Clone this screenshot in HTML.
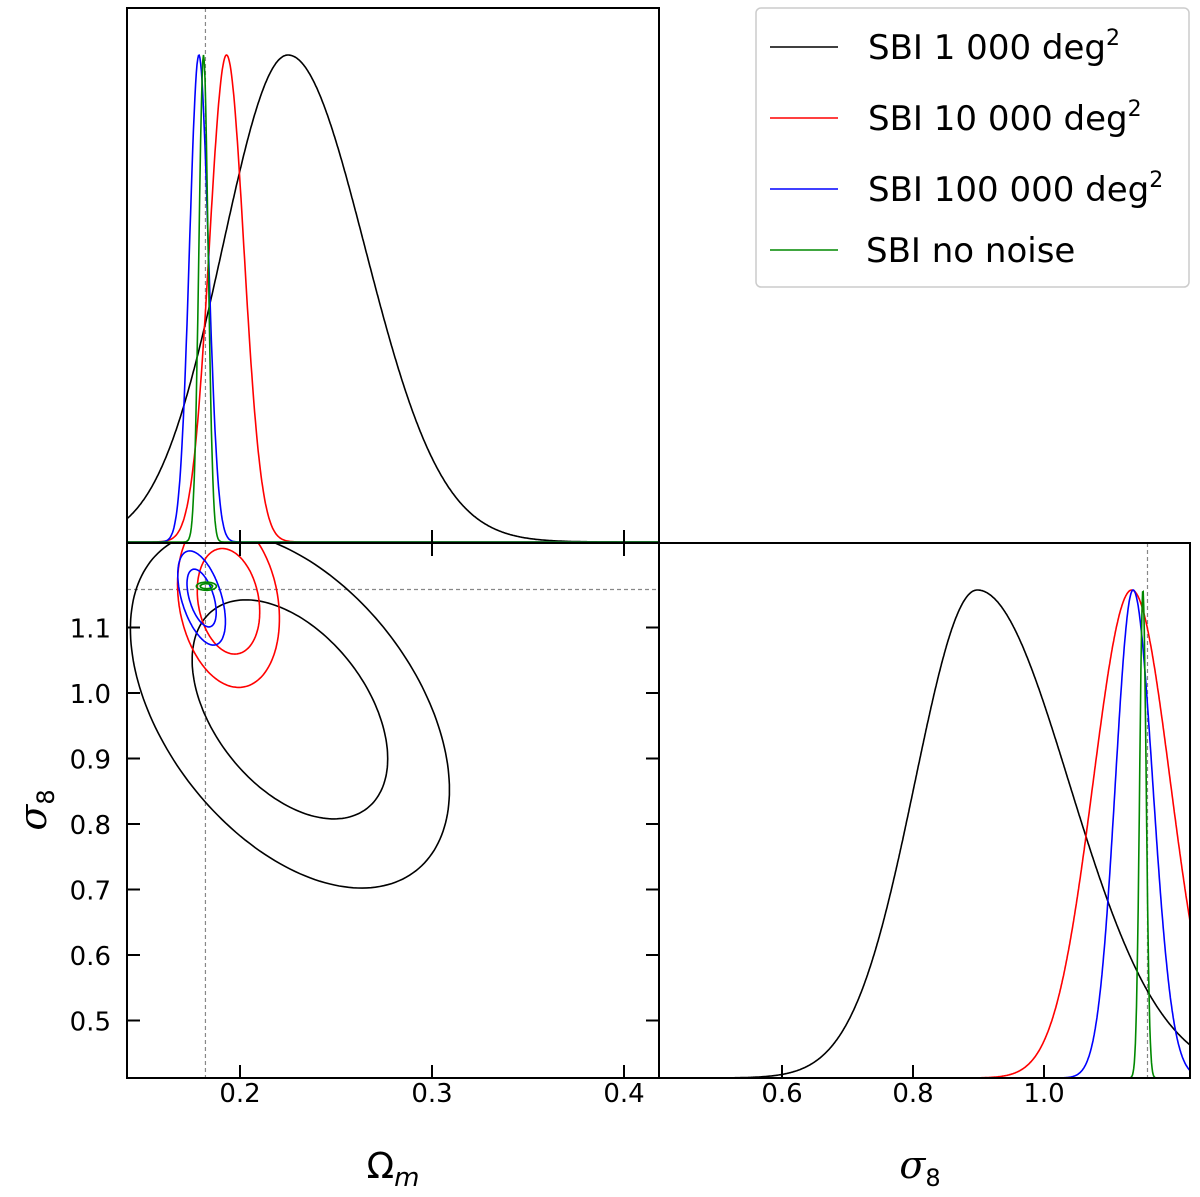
<!DOCTYPE html>
<html><head><meta charset="utf-8"><style>
html,body{margin:0;padding:0;background:#fff;}
svg{display:block;font-family:"DejaVu Sans","Liberation Sans",sans-serif;}
</style></head><body>
<svg id="chart" width="1200" height="1197" viewBox="0 0 1200 1197">
<defs>
<clipPath id="clipTL"><rect x="127" y="8" width="532" height="535"/></clipPath>
<clipPath id="clipBL"><rect x="127" y="543" width="532" height="535"/></clipPath>
<clipPath id="clipBR"><rect x="659" y="543" width="531" height="535"/></clipPath>
</defs>
<g id="gTL" clip-path="url(#clipTL)"></g>
<g id="gBL" clip-path="url(#clipBL)"></g>
<g id="gBR" clip-path="url(#clipBR)"></g>
<g id="axes"></g>
<rect x="127" y="8" width="532" height="535" fill="none" stroke="#000" stroke-width="2"/>
<rect x="127" y="543" width="532" height="535" fill="none" stroke="#000" stroke-width="2"/>
<rect x="659" y="543" width="531" height="535" fill="none" stroke="#000" stroke-width="2"/>
<text x="393" y="1178" font-size="36" font-family="DejaVu Sans,Liberation Sans,sans-serif" text-anchor="middle">Ω<tspan font-size="26" font-style="italic" dy="8">m</tspan></text>
<text x="920" y="1178" font-size="38" font-style="italic" font-family="DejaVu Serif,Liberation Serif,serif" text-anchor="middle">σ<tspan font-size="24" font-style="normal" font-family="DejaVu Sans,sans-serif" dy="8">8</tspan></text>
<text transform="translate(46,810) rotate(-90)" font-size="38" font-style="italic" font-family="DejaVu Serif,Liberation Serif,serif" text-anchor="middle">σ<tspan font-size="24" font-style="normal" font-family="DejaVu Sans,sans-serif" dy="8">8</tspan></text>
<g>
<rect x="756" y="8" width="433" height="279" rx="5" fill="#fff" stroke="#ccc" stroke-width="1.5"/>
<g><line x1="770" y1="47" x2="838" y2="47" stroke="#000" stroke-width="1.6"/><text x="868" y="59" font-size="34">SBI 1 000 deg<tspan font-size="22" dy="-14">2</tspan></text></g>
<g><line x1="770" y1="118" x2="838" y2="118" stroke="#f00" stroke-width="1.6"/><text x="868" y="130" font-size="34">SBI 10 000 deg<tspan font-size="22" dy="-14">2</tspan></text></g>
<g><line x1="770" y1="189" x2="838" y2="189" stroke="#00f" stroke-width="1.6"/><text x="868" y="201" font-size="34">SBI 100 000 deg<tspan font-size="22" dy="-14">2</tspan></text></g>
<g><line x1="770" y1="250" x2="838" y2="250" stroke="#080" stroke-width="1.6"/><text x="866" y="262" font-size="34">SBI no noise</text></g>
</g>
</svg>
<script>
const seriesNames = ["1000", "10000", "100000", "no-noise"];
const seriesColors = ["#000", "#f00", "#00f", "#080"];
// Omega_m marginal: peak, sigma left, sigma right
const omPeak = [0.225, 0.193, 0.1786, 0.181];
const omSigL = [0.034, 0.009, 0.0049, 0.0024];
const omSigR = [0.040, 0.009, 0.0049, 0.0024];
// sigma8 marginal
const s8Peak = [0.898, 1.134, 1.136, 1.151];
const s8SigL = [0.095, 0.059, 0.027, 0.005];
const s8SigR = [0.140, 0.059, 0.030, 0.005];
// 2D contours: center and covariance params
const cOm = [0.226, 0.194, 0.180, 0.1825];
const cS8 = [0.975, 1.140, 1.145, 1.163];
const sdOm = [0.0335, 0.0107, 0.005, 0.0021];
const sdS8 = [0.110, 0.053, 0.029, 0.0025];
const rho = [-0.45, -0.2, -0.5, 0.0];
const levels = [1.52, 2.48];
const trueOm = 0.182, trueS8 = 1.158;
const omTicks = [0.2, 0.3, 0.4];
const omTickLabels = ["0.2", "0.3", "0.4"];
const s8Ticks = [0.5, 0.6, 0.7, 0.8, 0.9, 1.0, 1.1];
const s8TickLabels = ["0.5", "0.6", "0.7", "0.8", "0.9", "1.0", "1.1"];
const s8xTicks = [0.6, 0.8, 1.0];
const s8xTickLabels = ["0.6", "0.8", "1.0"];

const NS = "http://www.w3.org/2000/svg";
const xOm = v => 240 + (v - 0.2) * 1920;
const yS8 = v => 693 - (v - 1.0) * 655;
const xS8 = v => 1044 + (v - 1.0) * 655;
const yTL = f => 542 - f * 487;
const yBR = f => 1078 - f * 488;
function mk(tag, attrs, parent) {
  const e = document.createElementNS(NS, tag);
  for (const k in attrs) e.setAttribute(k, attrs[k]);
  parent.appendChild(e); return e;
}
function dens(v, p, sl, sr) { const s = v < p ? sl : sr; return Math.exp(-0.5 * ((v - p) / s) ** 2); }
const gTL = document.getElementById("gTL"), gBL = document.getElementById("gBL"), gBR = document.getElementById("gBR"), ax = document.getElementById("axes");

let l = mk("line", {x1: xOm(trueOm), y1: 8, x2: xOm(trueOm), y2: 543, stroke: "#888", "stroke-width": 1.2, "stroke-dasharray": "4,3"}, gTL);


l = mk("line", {x1: xOm(trueOm), y1: 543, x2: xOm(trueOm), y2: 1078, stroke: "#888", "stroke-width": 1.2, "stroke-dasharray": "4,3"}, gBL);


l = mk("line", {x1: 127, y1: yS8(trueS8), x2: 659, y2: yS8(trueS8), stroke: "#888", "stroke-width": 1.2, "stroke-dasharray": "4,3"}, gBL);


l = mk("line", {x1: xS8(trueS8), y1: 543, x2: xS8(trueS8), y2: 1078, stroke: "#888", "stroke-width": 1.2, "stroke-dasharray": "4,3"}, gBR);



for (let i = 0; i < seriesNames.length; i++) {
  let pts = [];
  for (let k = 0; k <= 800; k++) { const v = 0.13 + k * (0.30 / 800); pts.push(xOm(v).toFixed(1) + "," + yTL(dens(v, omPeak[i], omSigL[i], omSigR[i])).toFixed(1)); }
  let p = mk("polyline", {points: pts.join(" "), fill: "none", stroke: seriesColors[i], "stroke-width": 1.6}, gTL);
  
  
  pts = [];
  for (let k = 0; k <= 1000; k++) { const v = 0.40 + k * (0.85 / 1000); pts.push(xS8(v).toFixed(1) + "," + yBR(dens(v, s8Peak[i], s8SigL[i], s8SigR[i])).toFixed(1)); }
  p = mk("polyline", {points: pts.join(" "), fill: "none", stroke: seriesColors[i], "stroke-width": 1.6}, gBR);
  
  
  for (let j = 0; j < levels.length; j++) {
    const kk = levels[j]; pts = [];
    for (let t = 0; t <= 200; t++) {
      const a = t / 200 * 2 * Math.PI;
      const vo = cOm[i] + kk * sdOm[i] * Math.cos(a);
      const vs = cS8[i] + kk * sdS8[i] * (rho[i] * Math.cos(a) + Math.sqrt(1 - rho[i] * rho[i]) * Math.sin(a));
      pts.push(xOm(vo).toFixed(1) + "," + yS8(vs).toFixed(1));
    }
    p = mk("polygon", {points: pts.join(" "), fill: "none", stroke: seriesColors[i], "stroke-width": 1.6}, gBL);
    
    
  }
}

const TL = 13;
omTicks.forEach((v, i) => {
  const x = xOm(v);
  let t = mk("line", {x1: x, y1: 1078, x2: x, y2: 1078 - TL, stroke: "#000", "stroke-width": 2}, ax);
  
  
  t = mk("line", {x1: x, y1: 543, x2: x, y2: 543 + TL, stroke: "#000", "stroke-width": 2}, ax);
  
  
  t = mk("line", {x1: x, y1: 543, x2: x, y2: 543 - TL, stroke: "#000", "stroke-width": 2}, ax);
  
  
  const tx = mk("text", {x: x, y: 1102, "font-size": 26, "text-anchor": "middle"}, ax);
  tx.textContent = omTickLabels[i];
  
  
});
s8Ticks.forEach((v, i) => {
  const y = yS8(v);
  let t = mk("line", {x1: 127, y1: y, x2: 127 + TL, y2: y, stroke: "#000", "stroke-width": 2}, ax);
  
  
  t = mk("line", {x1: 659, y1: y, x2: 659 - TL, y2: y, stroke: "#000", "stroke-width": 2}, ax);
  
  
  const tx = mk("text", {x: 111, y: y + 10, "font-size": 26, "text-anchor": "end"}, ax);
  tx.textContent = s8TickLabels[i];
  
  
});
s8xTicks.forEach((v, i) => {
  const x = xS8(v);
  const t = mk("line", {x1: x, y1: 1078, x2: x, y2: 1078 - TL, stroke: "#000", "stroke-width": 2}, ax);
  
  
  const tx = mk("text", {x: x, y: 1102, "font-size": 26, "text-anchor": "middle"}, ax);
  tx.textContent = s8xTickLabels[i];
  
  
});
</script>
</body></html>
